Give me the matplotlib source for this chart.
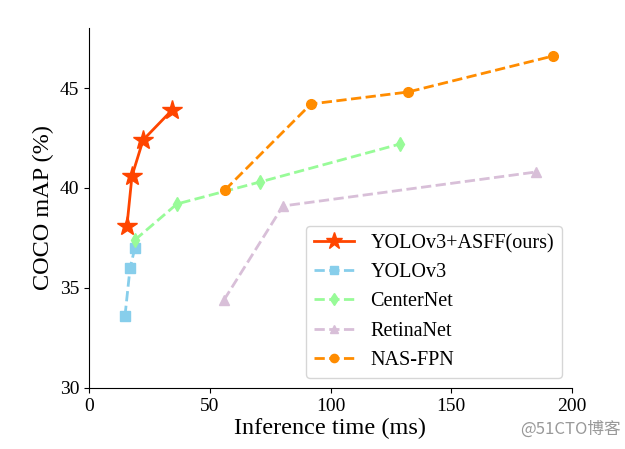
import matplotlib
matplotlib.use("Agg")
import matplotlib.pyplot as plt

asff_x = [15.7, 17.8, 22.4, 34.4]
asff_y = [38.1, 40.6, 42.4, 43.9]
yolo_x = [14.9, 17.0, 19.0]
yolo_y = [33.6, 36.0, 37.0]
center_x = [19.0, 36.4, 70.8, 128.8]
center_y = [37.4, 39.2, 40.3, 42.2]
retina_x = [55.9, 80.3, 185.1]
retina_y = [34.4, 39.1, 40.8]
nas_x = [56.3, 91.9, 132.1, 192.1]
nas_y = [39.9, 44.2, 44.8, 46.6]

plt.rcParams['font.family'] = ['Liberation Serif', 'DejaVu Serif']
fig = plt.figure(figsize=(6.25, 4.49), dpi=100)
ax = fig.add_axes([0.1424, 0.136, 0.7728, 0.8016])

ax.plot(asff_x, asff_y, '-', color='#FF4500', marker='*', markersize=15, lw=2, label='YOLOv3+ASFF(ours)')
ax.plot(yolo_x, yolo_y, '--', color='#87CEEB', marker='s', markersize=7, lw=2, label='YOLOv3')
ax.plot(center_x, center_y, '--', color='#98FB98', marker='d', markersize=7, lw=2, label='CenterNet')
ax.plot(retina_x, retina_y, '--', color='#D8BFD8', marker='^', markersize=7, lw=2, label='RetinaNet')
ax.plot(nas_x, nas_y, '--', color='#FF8C00', marker='o', markersize=7, lw=2, label='NAS-FPN')

ax.set_xlim(0, 200)
ax.set_ylim(30, 48)
ax.set_xticks([0, 50, 100, 150, 200])
ax.set_yticks([30, 35, 40, 45])
ax.tick_params(labelsize=14)
ax.spines['top'].set_visible(False)
ax.spines['right'].set_visible(False)
ax.set_xlabel('Inference time (ms)', fontsize=17.5, labelpad=2)
ax.set_ylabel('COCO mAP (%)', fontsize=17.5)
ax.legend(loc='lower right', fontsize=14.5, markerscale=0.85)

fig.text(0.993, 0.025, '@51CTO博客', ha='right', va='bottom', fontsize=12, color='#999999',
         family=['Noto Sans CJK SC', 'DejaVu Sans'])
fig.savefig('out.png', dpi=100)
